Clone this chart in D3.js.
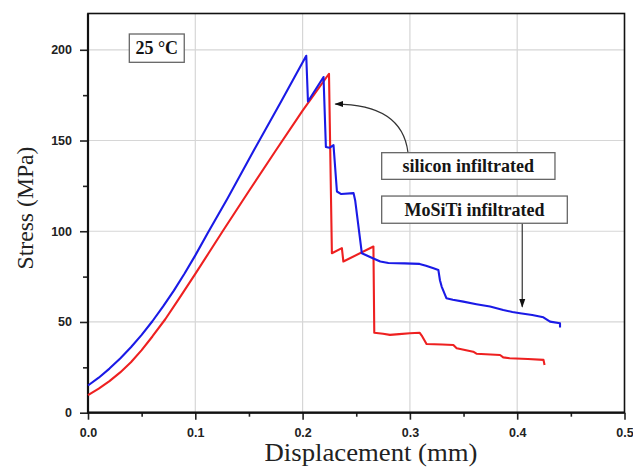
<!DOCTYPE html>
<html>
<head>
<meta charset="utf-8">
<script src="https://cdn.jsdelivr.net/npm/d3@7"></script>
<style>
  html, body { margin: 0; padding: 0; background: #fff; }
  svg { display: block; }
</style>
</head>
<body>
<svg id="chart" width="633" height="468"></svg>
<script>
// Stress–displacement curves of the two infiltrated composites at 25 °C

// MoSiTi infiltrated (blue)
const mositiDisp = [0, 0.01, 0.02, 0.03, 0.04, 0.05, 0.06, 0.07, 0.08, 0.09, 0.1, 0.112, 0.13, 0.155, 0.18, 0.2034,
  0.205, 0.2195, 0.2217, 0.225, 0.2288, 0.232, 0.236, 0.2475, 0.249, 0.2552, 0.266, 0.2724,
  0.28, 0.295, 0.309, 0.315, 0.322, 0.3265, 0.328, 0.3296, 0.334, 0.34, 0.3498, 0.362, 0.3747,
  0.387, 0.3955, 0.4027, 0.414, 0.4244, 0.4306, 0.4399, 0.4399];
const mositiStress = [15, 19.3, 24.3, 29.9, 36.1, 42.9, 50.4, 58.6, 67.3, 76.7, 86.7, 99.5, 118, 145, 171.5, 196.7,
  171.5, 185, 146.4, 146, 147.5, 121.9, 120.5, 121, 117, 87.9, 85, 83.3,
  82.5, 82.3, 82, 81, 79.6, 78.7, 73, 69.5, 63.1, 62.2, 61.2, 59.8, 58.5,
  56.6, 55.5, 54.8, 53.8, 52.6, 50.2, 49.3, 47];

// silicon infiltrated (red)
const siliconDisp = [0, 0.01, 0.02, 0.03, 0.04, 0.05, 0.06, 0.072, 0.085, 0.1, 0.1125, 0.1255, 0.15, 0.175, 0.2, 0.2246,
  0.2273, 0.2366, 0.238, 0.266, 0.2668, 0.275, 0.2814, 0.29, 0.3, 0.309, 0.311, 0.3155, 0.33,
  0.3405, 0.3436, 0.359, 0.362, 0.384, 0.387, 0.393, 0.41, 0.4245, 0.4255];
const siliconStress = [9.7, 13.3, 17.4, 22.2, 27.8, 34.5, 42, 51.5, 63, 76.5, 88, 100, 122.2, 144.5, 166.5, 186.8,
  87.9, 90.7, 83.3, 91.6, 44.1, 43.5, 42.9, 43.3, 43.8, 44.1, 42.5, 37.9, 37.6,
  37.3, 35.5, 33.6, 32.5, 31.8, 30.5, 30, 29.6, 29.1, 26.3];

const xTicks = [0, 0.1, 0.2, 0.3, 0.4, 0.5];
const xMinorTicks = [0.05, 0.15, 0.25, 0.35, 0.45];
const yTicks = [0, 50, 100, 150, 200];
const yMinorTicks = [25, 75, 125, 175];

const xTitle = "Displacement (mm)";
const yTitle = "Stress (MPa)";
const tempLabel = "25 °C";
const siliconLabel = "silicon infiltrated";
const mositiLabel = "MoSiTi infiltrated";

const svg = d3.select("#chart");
const x = d3.scaleLinear().domain([0, 0.5]).range([88, 624.5]);
const y = d3.scaleLinear().domain([0, 220]).range([412.7, 13.5]);

const tickFont = "'Liberation Sans', Arial, sans-serif";
const serif = "'Liberation Serif', 'Times New Roman', serif";

// grid
svg.append("g").selectAll("line")
  .data(xTicks.filter(d => d > 0 && d < 0.5))
  .join("line")
  .attr("x1", d => x(d)).attr("x2", d => x(d))
  .attr("y1", y(0)).attr("y2", y(220))
  .attr("stroke", "#d6d6d6").attr("stroke-width", 1.2);
svg.append("g").selectAll("line")
  .data(yTicks.filter(d => d > 0))
  .join("line")
  .attr("x1", x(0)).attr("x2", x(0.5))
  .attr("y1", d => y(d)).attr("y2", d => y(d))
  .attr("stroke", "#d6d6d6").attr("stroke-width", 1.2);

// axes
const xAxis = svg.append("g").attr("transform", `translate(0,${y(0)})`)
  .call(d3.axisBottom(x).tickValues(xTicks).tickSize(7).tickPadding(8).tickFormat(d3.format(".1f")));
const xMinor = svg.append("g").attr("transform", `translate(0,${y(0)})`)
  .call(d3.axisBottom(x).tickValues(xMinorTicks).tickSize(4).tickFormat(""));
const yAxis = svg.append("g").attr("transform", `translate(${x(0)},0)`)
  .call(d3.axisLeft(y).tickValues(yTicks).tickSize(8).tickPadding(8).tickFormat(d3.format("d")));
const yMinor = svg.append("g").attr("transform", `translate(${x(0)},0)`)
  .call(d3.axisLeft(y).tickValues(yMinorTicks).tickSize(5).tickFormat(""));

[xAxis, xMinor, yAxis, yMinor].forEach(g => {
  g.select(".domain").remove();
  g.selectAll(".tick line").attr("stroke", "#222").attr("stroke-width", 1.6);
  g.selectAll(".tick text")
    .attr("fill", "#222")
    .style("font-family", tickFont)
    .style("font-weight", "bold")
    .style("font-size", "12.5px");
});

// frame
svg.append("rect")
  .attr("x", x(0)).attr("y", y(220))
  .attr("width", x(0.5) - x(0)).attr("height", y(0) - y(220))
  .attr("fill", "none").attr("stroke", "#111").attr("stroke-width", 1.6);
svg.append("path")
  .attr("d", `M${x(0)},${y(220)}V${y(0)}H${x(0.5)}`)
  .attr("fill", "none").attr("stroke", "#111").attr("stroke-width", 2.2);

// curves
const line = d3.line().x(d => x(d[0])).y(d => y(d[1]));
svg.append("path")
  .datum(d3.zip(siliconDisp, siliconStress))
  .attr("d", line)
  .attr("fill", "none").attr("stroke", "#ee2020").attr("stroke-width", 2.1)
  .attr("stroke-linejoin", "round");
svg.append("path")
  .datum(d3.zip(mositiDisp, mositiStress))
  .attr("d", line)
  .attr("fill", "none").attr("stroke", "#1a1ae6").attr("stroke-width", 2.1)
  .attr("stroke-linejoin", "round");

// arrow heads
svg.append("defs").append("marker")
  .attr("id", "head")
  .attr("viewBox", "0 0 10 10")
  .attr("refX", 9).attr("refY", 5)
  .attr("markerWidth", 9).attr("markerHeight", 9)
  .attr("markerUnits", "userSpaceOnUse")
  .attr("orient", "auto")
  .append("path").attr("d", "M0,1.5L10,5L0,8.5Z").attr("fill", "#111");

// labelled boxes
function labelBox(x0, s0, x1, s1, text) {
  svg.append("rect")
    .attr("x", x(x0)).attr("y", y(s0))
    .attr("width", x(x1) - x(x0)).attr("height", y(s1) - y(s0))
    .attr("fill", "#fff").attr("stroke", "#666").attr("stroke-width", 1.3);
  svg.append("text")
    .attr("x", (x(x0) + x(x1)) / 2).attr("y", (y(s0) + y(s1)) / 2 + 6)
    .attr("text-anchor", "middle")
    .style("font-family", serif).style("font-weight", "bold").style("font-size", "18px")
    .attr("fill", "#151515")
    .text(text);
}

labelBox(0.0385, 208.7, 0.0897, 193.1, tempLabel);

// silicon callout
svg.append("path")
  .attr("d", `M${x(0.2982)},${y(143.5)}Q${x(0.2926)},${y(170.1)} ${x(0.2305)},${y(170.1)}`)
  .attr("fill", "none").attr("stroke", "#333").attr("stroke-width", 1.2)
  .attr("marker-end", "url(#head)");
labelBox(0.2737, 143.3, 0.4352, 128.6, siliconLabel);

// MoSiTi callout
svg.append("line")
  .attr("x1", x(0.4047)).attr("x2", x(0.4047))
  .attr("y1", y(104.4)).attr("y2", y(58.4))
  .attr("stroke", "#333").attr("stroke-width", 1.2)
  .attr("marker-end", "url(#head)");
labelBox(0.2737, 119.4, 0.4467, 104.4, mositiLabel);

// axis titles
svg.append("text")
  .attr("x", 371).attr("y", 461)
  .attr("text-anchor", "middle")
  .attr("textLength", 213).attr("lengthAdjust", "spacingAndGlyphs")
  .style("font-family", serif).style("font-size", "25px").attr("fill", "#222")
  .text(xTitle);
svg.append("text")
  .attr("transform", `translate(33,208) rotate(-90)`)
  .attr("text-anchor", "middle")
  .attr("textLength", 123).attr("lengthAdjust", "spacingAndGlyphs")
  .style("font-family", serif).style("font-size", "24px").attr("fill", "#222")
  .text(yTitle);
</script>
</body>
</html>
